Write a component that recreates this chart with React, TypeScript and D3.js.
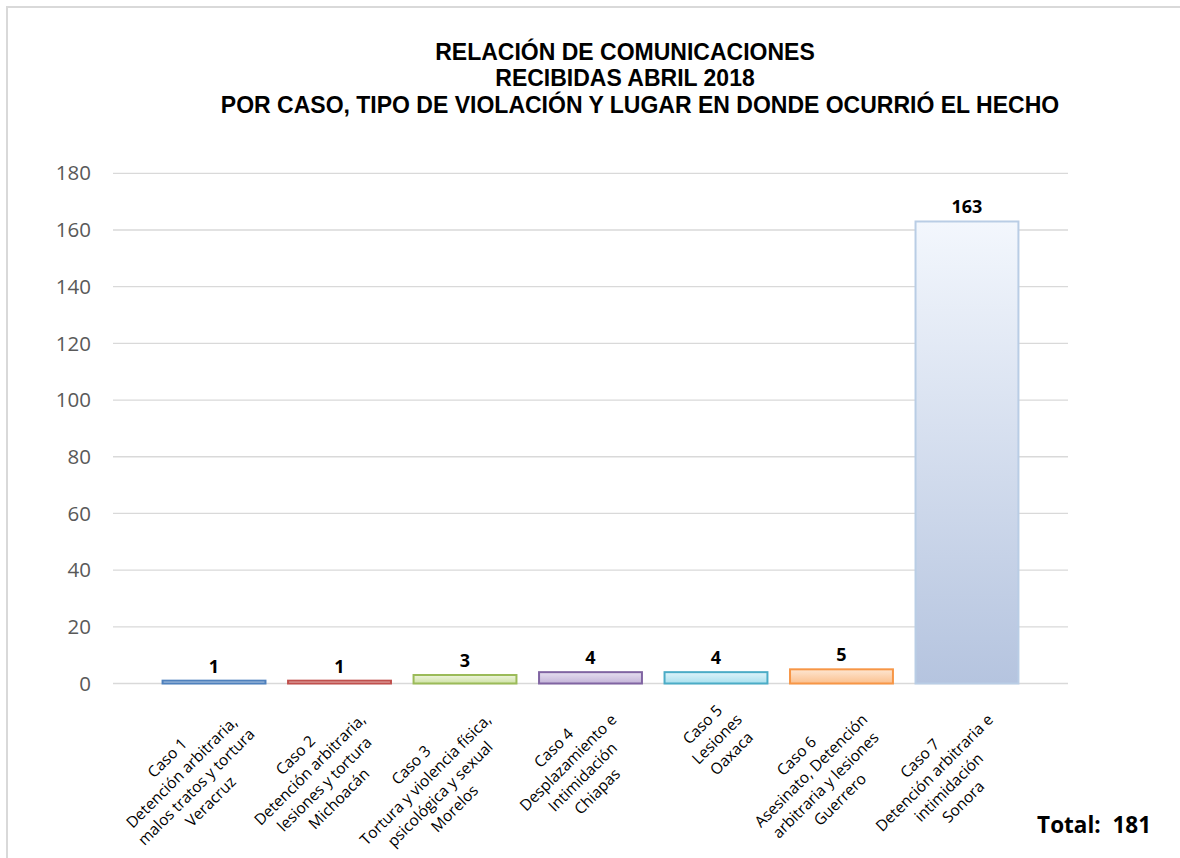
import React, { useEffect, useRef } from "react";
import * as d3 from "d3";

const categories: string[][] = [
  ["Caso 1", "Detención arbitraria,", "malos tratos y tortura", "Veracruz"],
  ["Caso 2", "Detención arbitraria,", "lesiones y tortura", "Michoacán"],
  ["Caso 3", "Tortura y violencia física,", "psicológica y sexual", "Morelos"],
  ["Caso 4", "Desplazamiento e", "Intimidación", "Chiapas"],
  ["Caso 5", "Lesiones", "Oaxaca"],
  ["Caso 6", "Asesinato, Detención", "arbitraria y lesiones", "Guerrero"],
  ["Caso 7", "Detención arbitraria e", "intimidación", "Sonora"],
];
const values: number[] = [1, 1, 3, 4, 4, 5, 163];
const strokeColors: string[] = ["#4f81bd", "#c0504d", "#9bbb59", "#8064a2", "#4bacc6", "#f79646", "#b9cde5"];
const fillTop: string[] = ["#dbe5f3", "#f3d9d8", "#eef5de", "#e6dff0", "#e0f4fa", "#fde6d2", "#f3f7fd"];
const fillBottom: string[] = ["#a8c0e0", "#e2a8a6", "#cfe2a6", "#c3b3d8", "#a9e0ee", "#fbc08e", "#b5c4df"];
const yTicks: number[] = [0, 20, 40, 60, 80, 100, 120, 140, 160, 180];
const titleLines: string[] = [
  "RELACIÓN DE COMUNICACIONES",
  "RECIBIDAS ABRIL 2018",
  "POR CASO, TIPO DE VIOLACIÓN Y LUGAR EN DONDE OCURRIÓ EL HECHO",
];
const totalText = "Total:  181";

const W = 1180;
const H = 858;
const FONT = "'Open Sans', 'Liberation Sans', sans-serif";
const TITLE_FONT = "'Liberation Sans', Arial, sans-serif";

export default function App() {
  const ref = useRef<SVGSVGElement | null>(null);

  useEffect(() => {
    const svg = d3.select(ref.current);
    svg.selectAll("*").remove();

    const plotLeft = 113;
    const plotRight = 1068;
    const y = d3.scaleLinear().domain([0, 180]).range([683.5, 173.3]);
    const x = d3
      .scaleBand<number>()
      .domain(d3.range(values.length))
      .range([plotLeft, plotRight])
      .paddingInner(0.18)
      .paddingOuter(0.395);

    // outer border
    svg
      .append("rect")
      .attr("x", 7)
      .attr("y", 7)
      .attr("width", W + 20)
      .attr("height", H + 20)
      .attr("fill", "#fff")
      .attr("stroke", "#d9d9d9")
      .attr("stroke-width", 2);

    // title
    const titleX = [625, 625, 640];
    svg
      .append("g")
      .selectAll("text")
      .data(titleLines)
      .join("text")
      .attr("x", (_d, i) => titleX[i])
      .attr("y", (_d, i) => 59.5 + i * 26.5)
      .attr("text-anchor", "middle")
      .attr("font-family", TITLE_FONT)
      .attr("font-weight", 700)
      .attr("font-size", 23)
      .attr("fill", "#000")
      .text((d) => d);

    // gridlines
    svg
      .append("g")
      .selectAll("line")
      .data(yTicks)
      .join("line")
      .attr("x1", plotLeft)
      .attr("x2", plotRight)
      .attr("y1", (d) => y(d))
      .attr("y2", (d) => y(d))
      .attr("stroke", "#d9d9d9")
      .attr("stroke-width", 1.3);

    // y tick labels
    svg
      .append("g")
      .selectAll("text")
      .data(yTicks)
      .join("text")
      .attr("x", 91)
      .attr("y", (d) => y(d))
      .attr("dy", "0.35em")
      .attr("text-anchor", "end")
      .attr("font-family", FONT)
      .attr("font-size", 20.5)
      .attr("fill", "#595959")
      .text((d) => d);

    // gradients
    const defs = svg.append("defs");
    values.forEach((_v, i) => {
      const g = defs
        .append("linearGradient")
        .attr("id", `grad${i}`)
        .attr("x1", 0)
        .attr("y1", 0)
        .attr("x2", 0)
        .attr("y2", 1);
      g.append("stop").attr("offset", "0%").attr("stop-color", fillTop[i]);
      g.append("stop").attr("offset", "100%").attr("stop-color", fillBottom[i]);
    });

    // bars
    svg
      .append("g")
      .selectAll("rect")
      .data(values)
      .join("rect")
      .attr("x", (_d, i) => x(i)!)
      .attr("width", x.bandwidth())
      .attr("y", (d) => y(d))
      .attr("height", (d) => y(0) - y(d))
      .attr("fill", (_d, i) => `url(#grad${i})`)
      .attr("stroke", (_d, i) => strokeColors[i])
      .attr("stroke-width", 2);

    // value labels
    svg
      .append("g")
      .selectAll("text")
      .data(values)
      .join("text")
      .attr("x", (_d, i) => x(i)! + x.bandwidth() / 2)
      .attr("y", (d) => y(d) - 8)
      .attr("text-anchor", "middle")
      .attr("font-family", FONT)
      .attr("font-weight", 700)
      .attr("font-size", 18)
      .attr("fill", "#000")
      .text((d) => d);

    // category labels (rotated -45, lines centered within the block)
    const lineH = 20.5;
    const labelG = svg
      .append("g")
      .selectAll("g")
      .data(categories)
      .join("g")
      .attr(
        "transform",
        (_d, i) => `translate(${x(i)! + x.bandwidth() / 2 + 2},${y(0) + 12}) rotate(-45)`
      );
    labelG.each(function (lines) {
      const g = d3.select(this);
      const texts = g
        .selectAll("text")
        .data(lines)
        .join("text")
        .attr("y", (_d, j) => 15 + j * lineH)
        .attr("text-anchor", "middle")
        .attr("font-family", FONT)
        .attr("font-size", 15.5)
        .attr("fill", "#000")
        .text((d) => d);
      let maxW = 0;
      texts.each(function () {
        maxW = Math.max(maxW, (this as SVGTextElement).getComputedTextLength());
      });
      texts.attr("x", -maxW / 2);
    });

    // total
    svg
      .append("text")
      .attr("x", 1151)
      .attr("y", 833)
      .attr("text-anchor", "end")
      .attr("font-family", FONT)
      .attr("font-weight", 700)
      .attr("font-size", 22.5)
      .attr("fill", "#000")
      .style("white-space", "pre")
      .text(totalText);
  }, []);

  return (
    <div style={{ position: "absolute", left: 0, top: 0, width: W, height: H, background: "#fff" }}>
      <svg ref={ref} width={W} height={H} style={{ display: "block" }} />
    </div>
  );
}
